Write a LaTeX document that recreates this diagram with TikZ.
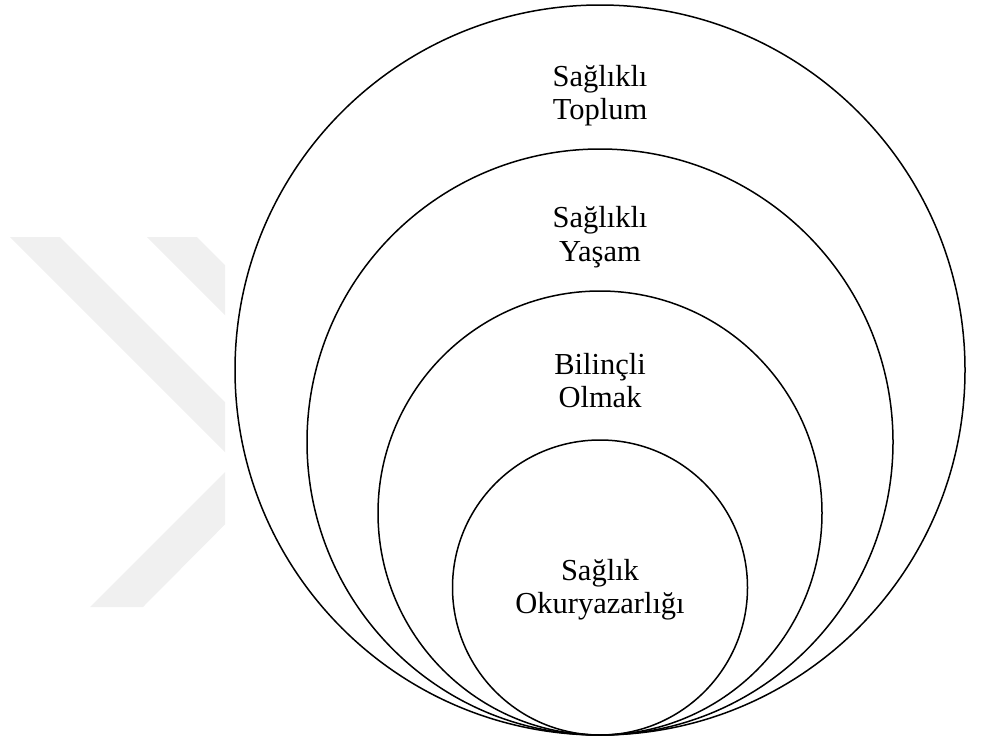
\documentclass[tikz,border=0pt]{standalone}
\usepackage{fontspec}
\setmainfont{Liberation Serif}
\begin{document}
\begin{tikzpicture}[x=1pt,y=-1pt,
  ring/.style={draw=black,line width=1.5pt},
  lbl/.style={anchor=base,inner sep=0pt,font=\fontsize{30.5}{34}\selectfont},
  wm/.style={fill=black!6,draw=none}]
\useasboundingbox (0,0) rectangle (984,744);
% faint background watermark
\begin{scope}
  \clip (0,0) rectangle (225,744);
  \fill[wm] (10,237) -- (60,237) -- (286,463) -- (143,607) -- (90,607) -- (235,462) -- cycle;
  \fill[wm] (147,237) -- (197,237) -- (423,463) -- (280,607) -- (227,607) -- (372,462) -- cycle;
\end{scope}
% nested circles, tangent at the bottom
\coordinate (tp) at (600,735);
\draw[ring] (600,370) circle[radius=365];
\draw[ring] (600,442) circle[radius=293];
\draw[ring] (600,513) circle[radius=222];
\draw[ring] (600,587.5) circle[radius=147.5];
% labels
\node[lbl] (a1) at (600,86) {Sağlıklı};
\node[lbl] (a2) at (600,119) {Toplum};
\node[lbl] (b1) at (600,227) {Sağlıklı};
\node[lbl] (b2) at (600,261) {Yaşam};
\node[lbl] (c1) at (600,374) {Bilinçli};
\node[lbl] (c2) at (600,407) {Olmak};
\node[lbl] (d1) at (600,580) {Sağlık};
\node[lbl] (d2) at (600,613) {Okuryazarlığı};
\end{tikzpicture}
\end{document}
